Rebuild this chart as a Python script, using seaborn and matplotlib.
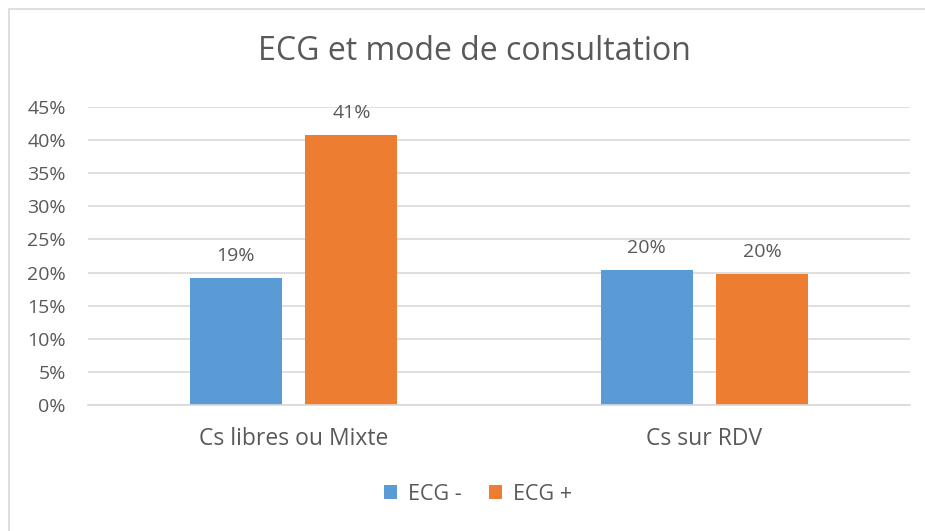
import matplotlib
matplotlib.use("Agg")
import matplotlib.pyplot as plt
import seaborn as sns
import pandas as pd
from matplotlib.lines import Line2D

categories = ["Cs libres ou Mixte", "Cs sur RDV"]
series = ["ECG -", "ECG +"]
ecg_minus = [19.2, 20.4]
ecg_plus = [40.8, 19.8]
labels_minus = ["19%", "20%"]
labels_plus = ["41%", "20%"]
yticks = [0, 5, 10, 15, 20, 25, 30, 35, 40, 45]
colors = ["#5B9BD5", "#ED7D31"]

df = pd.DataFrame({
    "cat": categories * 2,
    "serie": [series[0]] * 2 + [series[1]] * 2,
    "val": ecg_minus + ecg_plus,
})

sns.set_theme(style="white")
plt.rcParams["font.family"] = ["Open Sans", "DejaVu Sans"]
text_col = "#595959"

fig = plt.figure(figsize=(9.25, 5.31), dpi=100)
ax = fig.add_axes([88 / 925, 126 / 531, 822 / 925, 298 / 531])

sns.barplot(data=df, x="cat", y="val", hue="serie", palette=colors,
            width=0.564, gap=0.206, saturation=1, ax=ax, legend=True,
            edgecolor="none")

ax.set_ylim(0, 45)
ax.set_xlim(-0.5, 1.5)
ax.set_yticks(yticks)
ax.set_yticklabels([f"{v}%" for v in yticks], color=text_col, fontsize=14)
ax.tick_params(axis="x", colors=text_col, labelsize=16.5, length=0, pad=16)
ax.tick_params(axis="y", length=0, pad=16)
ax.yaxis.grid(True, color="#D9D9D9", linewidth=1.2)
ax.set_axisbelow(True)
for s in ["left", "right", "top"]:
    ax.spines[s].set_visible(False)
ax.spines["bottom"].set_color("#D9D9D9")
ax.spines["bottom"].set_linewidth(1.2)
ax.set_xlabel("")
ax.set_ylabel("")

for cont, labs in zip(ax.containers, [labels_minus, labels_plus]):
    ax.bar_label(cont, labels=labs, padding=9, color=text_col, fontsize=14)

leg = ax.legend(loc="center", bbox_to_anchor=(478 / 925, (531 - 494) / 531),
                bbox_transform=fig.transFigure, ncol=2, frameon=False,
                fontsize=15.5, handlelength=0.6, handleheight=0.6,
                columnspacing=1.3, handletextpad=0.5)
for t in leg.get_texts():
    t.set_color(text_col)

fig.text(474 / 925, (531 - 52) / 531, "ECG et mode de consultation",
         ha="center", va="center", fontsize=23, color=text_col)

bx, by = 8.5 / 925, (531 - 8.5) / 531
fig.add_artist(Line2D([bx, bx], [0, by], transform=fig.transFigure,
                      color="#D9D9D9", linewidth=1.2))
fig.add_artist(Line2D([bx, 1], [by, by], transform=fig.transFigure,
                      color="#D9D9D9", linewidth=1.2))

fig.savefig("out.png", dpi=100)
